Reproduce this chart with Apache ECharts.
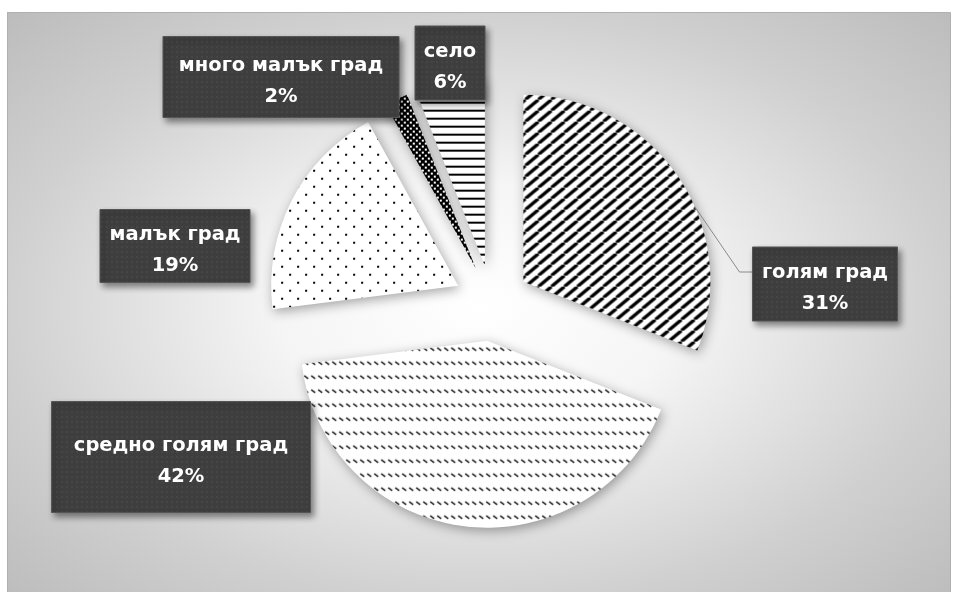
<!DOCTYPE html>
<html><head><meta charset="utf-8">
<script src="https://cdn.jsdelivr.net/npm/echarts/dist/echarts.min.js"></script>
<style>html,body{margin:0;padding:0;background:#fff}#c{width:958px;height:592px}</style>
</head><body><div id="c"></div>
<script>
// ---- data ----
const categories = ['голям град', 'средно голям град', 'малък град', 'много малък град', 'село'];
const values = [31, 42, 19, 2, 6];

// ---- layout (label boxes: center x, center y, width, height) ----
const labelBoxes = [
  [825, 284, 145, 74],
  [181, 457, 259, 111],
  [175, 246, 150, 73],
  [281, 77, 236, 81],
  [450, 63, 70, 74]
];
const LINE_H = 31;
const TEXT_SHIFT = 4;
const PIE_CENTER = [492, 303];
const PIE_R = 187;
const EXPLODE = 38;

// ---- pattern tiles ----
function tile(w, h, draw, bg) {
  const c = document.createElement('canvas');
  c.width = w; c.height = h;
  const g = c.getContext('2d');
  g.fillStyle = bg || '#fff'; g.fillRect(0, 0, w, h);
  draw(g, w, h);
  return {image: c, repeat: 'repeat'};
}
const patStripes = tile(13, 11, (g, w, h) => {
  g.strokeStyle = '#000'; g.lineWidth = 3.3;
  for (let k = -1; k <= 1; k++) {
    g.beginPath(); g.moveTo(k * w, h); g.lineTo(k * w + w, 0); g.stroke();
  }
});
const patDashRows = tile(7, 14, (g) => {
  g.strokeStyle = '#000'; g.lineWidth = 1.5;
  g.beginPath(); g.moveTo(1, 2); g.lineTo(5, 5); g.stroke();
});
const patDots = tile(16, 16, (g) => {
  g.fillStyle = '#000';
  g.fillRect(3, 3, 2, 2); g.fillRect(11, 11, 2, 2);
});
const patChecker = tile(6, 6, (g) => {
  g.fillStyle = '#000'; g.fillRect(0, 0, 6, 6);
  g.fillStyle = '#fff'; g.fillRect(0, 0, 2, 2); g.fillRect(3, 3, 2, 2);
});
const patHoriz = tile(8, 8, (g) => {
  g.fillStyle = '#000'; g.fillRect(0, 3, 8, 2);
});
const patterns = [patStripes, patDashRows, patDots, patChecker, patHoriz];
const patLabel = tile(5, 5, (g) => {
  g.fillStyle = '#464646'; g.fillRect(1, 1, 2, 2);
}, '#3e3e3e');

const chart = echarts.init(document.getElementById('c'), null, {renderer: 'canvas'});

const total = values.reduce((a, b) => a + b, 0);
const data = categories.map((name, i) => ({
  name: name,
  value: values[i],
  selected: true,
  itemStyle: {color: patterns[i]}
}));

// label boxes built from the data arrays
const labelGraphics = [];
categories.forEach((name, i) => {
  const b = labelBoxes[i];
  labelGraphics.push({
    type: 'rect', silent: true, z: 50,
    shape: {x: b[0] - b[2] / 2, y: b[1] - b[3] / 2, width: b[2], height: b[3]},
    style: {
      fill: patLabel,
      stroke: '#555555', lineWidth: 1,
      shadowBlur: 6, shadowOffsetX: 3, shadowOffsetY: 4,
      shadowColor: 'rgba(0,0,0,0.45)'
    }
  });
  labelGraphics.push({
    type: 'text', silent: true, z: 51,
    x: b[0], y: b[1] + TEXT_SHIFT,
    style: {
      text: name + '\n' + Math.round(values[i] / total * 100) + '%',
      fill: '#ffffff',
      font: 'bold 19.5px "DejaVu Sans"',
      lineHeight: LINE_H,
      align: 'center',
      verticalAlign: 'middle'
    }
  });
});

// leader line for the first slice, derived from pie geometry
const toRad = d => d * Math.PI / 180;
const midDeg0 = (values[0] / total) * 360 / 2;
const apex0 = [PIE_CENTER[0] + EXPLODE * Math.sin(toRad(midDeg0)), PIE_CENTER[1] - EXPLODE * Math.cos(toRad(midDeg0))];
const leadDeg = midDeg0 + 10.5;
const arcPt = [apex0[0] + PIE_R * Math.sin(toRad(leadDeg)), apex0[1] - PIE_R * Math.cos(toRad(leadDeg))];
const b0 = labelBoxes[0];
const boxLeft = b0[0] - b0[2] / 2;
const leaderY = b0[1] - 12;

const option = {
  animation: false,
  graphic: [
    {
      type: 'rect', silent: true, z: -10,
      x: 7, y: 12, scaleX: 943 / 590, scaleY: 1,
      shape: {x: 0, y: 0, width: 590, height: 590},
      style: {
        fill: {
          type: 'radial', x: 0.5, y: 0.5, r: 0.707,
          colorStops: [
            {offset: 0, color: '#ffffff'},
            {offset: 0.3, color: '#f5f5f5'},
            {offset: 0.707, color: '#d0d0d0'},
            {offset: 1, color: '#bcbcbc'}
          ]
        }
      }
    },
    {
      type: 'rect', silent: true, z: -9,
      shape: {x: 7.5, y: 12.5, width: 943, height: 600},
      style: {fill: 'none', stroke: '#b0b0b0', lineWidth: 1}
    },
    {
      type: 'polyline', silent: true, z: 40,
      shape: {points: [arcPt, [boxLeft - 13, leaderY], [boxLeft, leaderY]]},
      style: {fill: 'none', stroke: '#8a8a8a', lineWidth: 1}
    }
  ].concat(labelGraphics),
  series: [{
    type: 'pie',
    center: PIE_CENTER,
    radius: PIE_R,
    startAngle: 90,
    clockwise: true,
    selectedMode: 'multiple',
    selectedOffset: EXPLODE,
    silent: true,
    itemStyle: {
      borderWidth: 0,
      shadowBlur: 12,
      shadowColor: 'rgba(0,0,0,0.35)',
      shadowOffsetX: 2,
      shadowOffsetY: 3
    },
    label: {show: false},
    labelLine: {show: false},
    data: data
  }]
};
chart.setOption(option);
</script>
</body></html>
